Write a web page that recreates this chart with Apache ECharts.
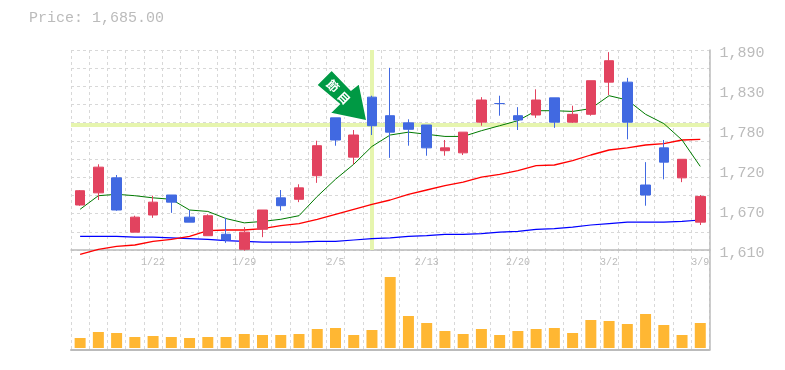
<!DOCTYPE html>
<html><head><meta charset="utf-8">
<style>html,body{margin:0;padding:0;background:#fff}#c{width:785px;height:370px}</style>
<script src="https://cdn.jsdelivr.net/npm/echarts@6/dist/echarts.min.js"></script>
</head><body><div id="c"></div>
<script>
const dates = ['1/16','1/19','1/20','1/21','1/22','1/23','1/26','1/27','1/28','1/29','1/30','2/2','2/3','2/4','2/5','2/6','2/9','2/10','2/12','2/13','2/16','2/17','2/18','2/19','2/20','2/24','2/25','2/26','2/27','3/2','3/3','3/4','3/5','3/6','3/9'];
const opens  = [1673,1690,1711,1635,1659,1687,1656,1630,1632,1611,1639,1683,1681,1714,1795,1740,1824,1798,1788,1785,1749,1746,1789,1815,1798,1799,1823,1789,1800,1845,1845,1701,1753,1711,1649];
const closes = [1693,1726,1666,1656,1677,1677,1649,1658,1624,1635,1666,1672,1697,1756,1764,1771,1784,1775,1779,1753,1753,1775,1820,1815,1792,1820,1789,1800,1847,1875,1789,1687,1733,1737,1685];
const lows   = [1672,1680,1665,1635,1655,1662,1649,1630,1620,1609,1628,1665,1677,1704,1756,1730,1771,1739,1756,1742,1742,1743,1784,1798,1778,1795,1781,1788,1798,1827,1765,1672,1709,1705,1645];
const highs  = [1694,1730,1715,1658,1686,1687,1666,1660,1655,1642,1666,1694,1702,1763,1795,1778,1826,1865,1793,1785,1764,1775,1824,1826,1810,1835,1823,1812,1847,1887,1851,1733,1764,1737,1687];
const maShort = [1667,1686,1688,1686,1683,1681,1666,1664,1654,1648,1650,1653,1658,1685,1709,1730,1755,1771,1775,1772,1769,1769,1777,1784,1791,1805,1805,1804,1808,1826,1820,1800,1787,1764,1727];
const maMid   = [1604,1611,1615,1617,1622,1625,1629,1637,1638,1638,1640,1644,1647,1653,1660,1667,1674,1680,1688,1694,1700,1705,1712,1716,1721,1728,1729,1735,1743,1750,1753,1757,1759,1764,1765];
const maLong  = [1629,1629,1629,1628,1628,1627,1626,1625,1623,1622,1621,1621,1621,1622,1622,1624,1626,1627,1629,1630,1632,1632,1633,1635,1636,1639,1640,1642,1645,1647,1649,1649,1649,1650,1652];
const volumes = [10,16,15,11,12,11,10,11,11,14,13,13,14,19,20,13,18,71,32,25,17,14,19,13,17,19,20,15,28,27,24,34,23,13,25];
const priceTicks = [1610,1666,1722,1778,1834,1890];
const gridTicks = [1610,1635.45,1660.91,1686.36,1711.82,1737.27,1762.73,1788.18,1813.64,1839.09,1864.55,1890];
const lastPrice = '1,685.00';
const signalPrice = 1785;
const signalIndex = 16;
const signalText = ['節','目'];

const grey = '#bbbbbb', dash = '#d8d8d8', mono = '"Liberation Mono", monospace';
const chart = echarts.init(document.getElementById('c'), null, {renderer:'canvas'});
const dashLine = {show:true, lineStyle:{color:dash, type:[3,3], width:1}};
const fmt = v => { const r = Math.round(v/10)*10; return String(r).replace(/(\d)(\d{3})$/, '$1,$2'); };
const lineS = (data, color, width) => ({type:'line', data, symbol:'none', silent:true, clip:false, z:3,
  lineStyle:{color, width}, itemStyle:{color}});

chart.setOption({
  animation:false, backgroundColor:'#ffffff',
  title:{text:'Price: '+lastPrice, left:24, top:6, textStyle:{color:grey, fontFamily:mono, fontSize:15, fontWeight:'normal'}},
  grid:[{left:71, width:638.4, top:50, height:200},{left:71, width:638.4, top:250, height:100}],
  xAxis:[
    {type:'category', gridIndex:0, data:dates, boundaryGap:true,
      axisLine:{show:true, onZero:false, lineStyle:{color:grey, width:1.5}}, axisTick:{show:false},
      axisLabel:{show:true, color:grey, fontFamily:mono, fontSize:10, margin:7, interval:i => (i+1)%5===0, hideOverlap:false},
      splitLine:{...dashLine, interval:0}},
    {type:'category', gridIndex:1, data:dates, boundaryGap:true,
      axisLine:{show:true, onZero:false, lineStyle:{color:grey, width:2}}, axisTick:{show:false},
      axisLabel:{show:false}, splitLine:{...dashLine, interval:0}}
  ],
  yAxis:[
    {type:'value', gridIndex:0, position:'right', min:1610, max:1890, scale:true,
      axisLine:{show:true, lineStyle:{color:grey, width:1.5}},
      axisTick:{show:false, customValues:gridTicks},
      axisLabel:{show:true, customValues:priceTicks, color:grey, fontFamily:mono, fontSize:15, margin:10, verticalAlign:'top', lineHeight:6, formatter:fmt},
      splitLine:dashLine},
    {type:'value', gridIndex:1, position:'right', min:-2, max:98,
      axisLine:{show:true, lineStyle:{color:grey, width:1.5}}, axisTick:{show:false}, axisLabel:{show:false}, splitLine:{show:false}}
  ],
  series:[
    {type:'line', data:[], z:1, silent:true, symbol:'none',
      markLine:{silent:true, symbol:'none', label:{show:false}, z:1,
        lineStyle:{color:'#e6f5ae', width:4, type:'solid'},
        data:[{yAxis:signalPrice},{xAxis:dates[signalIndex]}]}},
    lineS(maLong,'#0000ff',1.2),
    lineS(maMid,'#ff0000',1.3),
    lineS(maShort,'#007a00',1),
    {type:'candlestick', z:5, clip:false, barWidth:10, silent:true,
      data:dates.map((d,i)=>[opens[i],closes[i],lows[i],highs[i]]),
      itemStyle:{color:'#e2435f', color0:'#4169e1', borderColor:'#e2435f', borderColor0:'#4169e1', borderColorDoji:'#4169e1', borderWidth:1}},
    {type:'bar', xAxisIndex:1, yAxisIndex:1, data:volumes, barWidth:11, itemStyle:{color:'#ffb733'}, silent:true}
  ]
});

const tip = chart.convertToPixel({gridIndex:0},[signalIndex,1790.6]);
const tx = tip[0]-5, ty = tip[1];
const arrowPts = [[-35.3,-51],[-16,-31],[-7.7,-37.7],[0,0],[-37,-7.7],[-27.7,-17],[-50.3,-36]];
chart.setOption({graphic:[{type:'group', x:tx, y:ty, z:20, children:[
  {type:'polygon', shape:{points:arrowPts}, style:{fill:'#009944', stroke:'#ffffff', lineWidth:1.5}},
  {type:'text', x:-34, y:-35, rotation:-Math.PI/4, style:{text:signalText[0], fill:'#ffffff', font:'bold 12px "Noto Sans CJK JP"', align:'center', verticalAlign:'middle'}},
  {type:'text', x:-23, y:-23, rotation:-Math.PI/4, style:{text:signalText[1], fill:'#ffffff', font:'bold 12px "Noto Sans CJK JP"', align:'center', verticalAlign:'middle'}}
]}]});
</script></body></html>
